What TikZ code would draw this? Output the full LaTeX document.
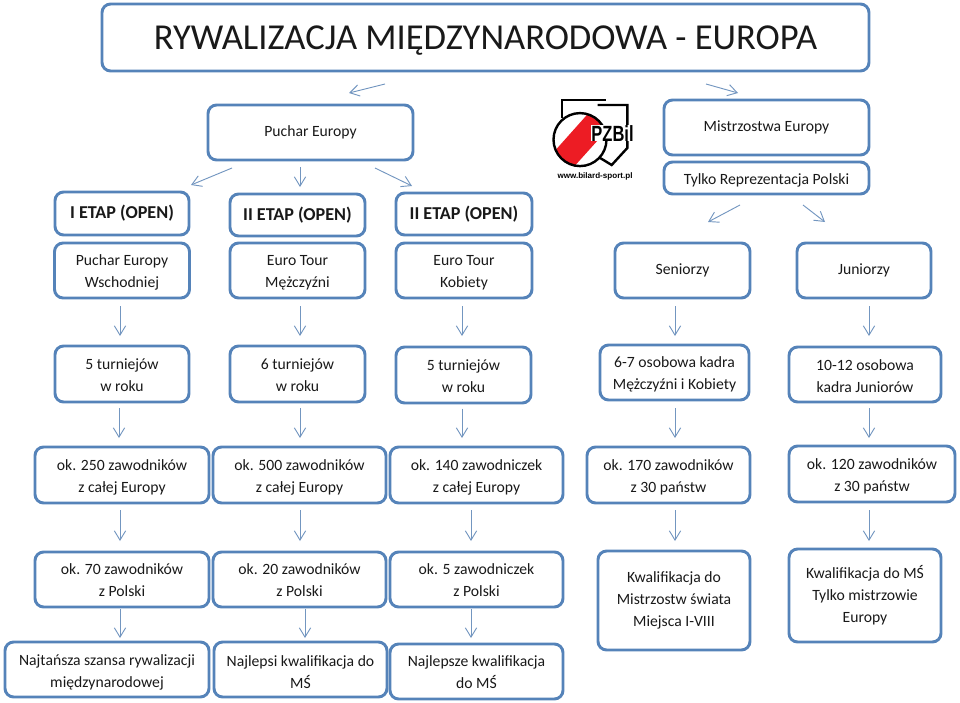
\documentclass[tikz,border=0pt]{standalone}
\usepackage{fontspec}
\setmainfont{Carlito}
\newfontfamily\logofont{Liberation Sans}
\usepackage{tikz}
\usetikzlibrary{arrows.meta}
\definecolor{boxblue}{HTML}{5583B9}
\definecolor{arrowblue}{HTML}{7396C0}
\definecolor{logored}{HTML}{ED1C24}
\tikzset{
    flowbox/.style={draw=boxblue,line width=2.2pt,rounded corners=6.5pt,fill=white,
        align=flush center,inner sep=0pt,outer sep=0pt,text=black!90,
        font=\fontsize{11.75}{16.5}\selectfont},
    etapbox/.style={flowbox,font=\fontsize{13.6}{16.5}\selectfont\bfseries},
    boxsize/.style 2 args={minimum width=#1*0.75pt,minimum height=#2*0.75pt,text width=#1*0.75pt-4pt},
    raised/.style={execute at begin node={\rule{0pt}{#1pt}}},
    raised/.default=11.6,
    flowarrow/.style={arrowblue,line width=0.7pt}
}

\begin{document}
\begin{tikzpicture}[x=0.75pt,y=-0.75pt,>={Straight Barb[length=7pt,width=8.5pt,line width=0.7pt]}]
    \useasboundingbox (0,0) rectangle (960,703);

    % Title
    \node[flowbox,boxsize={767}{67},font=\fontsize{27.4}{30}\selectfont,raised=23] (title) at (485.5,37.5) {RYWALIZACJA MIĘDZYNARODOWA - EUROPA};

    % Puchar Europy
    \node[flowbox,boxsize={205}{55}] (puchar) at (310.5,132.5) {Puchar Europy};
    \node[etapbox,boxsize={134}{43}] (etapa) at (122,213.5) {I ETAP (OPEN)};
    \node[etapbox,boxsize={135}{42}] (etapb) at (297.5,215) {II ETAP (OPEN)};
    \node[etapbox,boxsize={136}{42}] (etapc) at (464,214) {II ETAP (OPEN)};

    % Mistrzostwa Europy
    \node[flowbox,boxsize={205}{55}] (mistrz) at (766.5,127.5) {Mistrzostwa Europy};
    \node[flowbox,boxsize={205}{32},raised] (tylko) at (766.5,178) {Tylko Reprezentacja Polski};

    % Logo
    \draw[black,line width=1.8pt] (561.7,118) -- (561.7,100) -- (606,100);
    \draw[black,line width=1.8pt] (597.7,105) -- (627.3,105) -- (627.3,148) -- (611.7,165) -- (598,156.7);
    \begin{scope}
        \clip (580,139.6) circle (26.5);
        \fill[white] (550,110) rectangle (612,172);
        \fill[logored] (548,158.5) -- (594,107) -- (616,120) -- (566,175.6) -- cycle;
    \end{scope}
    \draw[black,line width=1.8pt] (580,139.6) circle (26.5);
    \node[font=\logofont\bfseries\fontsize{16.5}{16.5}\selectfont,xscale=0.75,inner sep=0pt,fill=white] (logoname) at (612.5,133.3) {PZBil};
    \node[font=\logofont\bfseries\fontsize{6.05}{7}\selectfont,inner sep=0pt] (logourl) at (595,176) {www.bilard-sport.pl};

    % Row with organisers
    \node[flowbox,boxsize={135}{55},raised] (orga) at (122,270.5) {Puchar Europy\\Wschodniej};
    \node[flowbox,boxsize={135}{55},raised] (orgb) at (297.5,270.5) {Euro Tour\\Mężczyźni};
    \node[flowbox,boxsize={136}{55},raised] (orgc) at (464,270.5) {Euro Tour\\Kobiety};
    \node[flowbox,boxsize={135}{55}] (orgd) at (682.5,270.5) {Seniorzy};
    \node[flowbox,boxsize={134}{55}] (orge) at (864,270.5) {Juniorzy};

    % Row with tournaments
    \node[flowbox,boxsize={134}{56},raised=10.4] (turna) at (122,374) {5 turniejów\\w roku};
    \node[flowbox,boxsize={135}{56},raised=10.4] (turnb) at (297.5,374) {6 turniejów\\w roku};
    \node[flowbox,boxsize={135}{56},raised=9.6] (turnc) at (463.5,375) {5 turniejów\\w roku};
    \node[flowbox,boxsize={149}{55},raised] (turnd) at (674.5,372.5) {6-7 osobowa kadra\\Mężczyźni i Kobiety};
    \node[flowbox,boxsize={152}{55},raised=10.4] (turne) at (865,374.5) {10-12 osobowa\\kadra Juniorów};

    % Row with players from Europe
    \node[flowbox,boxsize={174}{56},raised] (eura) at (122,475) {ok. 250 zawodników\\z całej Europy};
    \node[flowbox,boxsize={173}{56},raised] (eurb) at (299.5,475) {ok. 500 zawodników\\z całej Europy};
    \node[flowbox,boxsize={173}{56},raised] (eurc) at (476.5,475) {ok. 140 zawodniczek\\z całej Europy};
    \node[flowbox,boxsize={163}{56},raised] (eurd) at (668.5,475) {ok. 170 zawodników\\z 30 państw};
    \node[flowbox,boxsize={166}{56},raised] (eure) at (872,474) {ok. 120 zawodników\\z 30 państw};

    % Row with players from Poland
    \node[flowbox,boxsize={174}{55},raised=9] (pola) at (122,579.5) {ok. 70 zawodników\\z Polski};
    \node[flowbox,boxsize={173}{55},raised=9] (polb) at (299.5,579.5) {ok. 20 zawodników\\z Polski};
    \node[flowbox,boxsize={173}{55},raised=9] (polc) at (476.5,579.5) {ok. 5 zawodniczek\\z Polski};
    \node[flowbox,boxsize={152}{99}] (pold) at (674,600.5) {Kwalifikacja do\\Mistrzostw świata\\Miejsca I-VIII};
    \node[flowbox,boxsize={152}{93}] (pole) at (865,595.5) {Kwalifikacja do MŚ\\Tylko mistrzowie\\Europy};

    % Last row
    \node[flowbox,boxsize={204}{55},raised=12.6] (lasta) at (107,669.5) {Najtańsza szansa rywalizacji\\międzynarodowej};
    \node[flowbox,boxsize={173}{55},raised=12.6] (lastb) at (300.5,669.5) {Najlepsi kwalifikacja do\\MŚ};
    \node[flowbox,boxsize={173}{55},raised=9] (lastc) at (476.5,671.5) {Najlepsze kwalifikacja\\do MŚ};

    % Arrows from title
    \draw[->,flowarrow] ([shift={(-100.5,13)}]title.south) -- ([shift={(38.5,-12)}]puchar.north);
    \draw[->,flowarrow] ([shift={(220.5,13)}]title.south) -- ([shift={(-28.5,-7)}]mistrz.north);

    % Arrows from Puchar Europy and Tylko Reprezentacja
    \draw[->,flowarrow] ([shift={(-78.5,8)}]puchar.south) -- ([shift={(69,-7)}]etapa.north);
    \draw[->,flowarrow] ([shift={(-10.5,7)}]puchar.south) -- ([shift={(2.5,-7)}]etapb.north);
    \draw[->,flowarrow] ([shift={(64.5,8)}]puchar.south) -- ([shift={(-52,-7)}]etapc.north);
    \draw[->,flowarrow] ([shift={(-26.5,11)}]tylko.south) -- ([shift={(25.5,-21)}]orgd.north);
    \draw[->,flowarrow] ([shift={(36.5,11)}]tylko.south) -- ([shift={(-39,-21)}]orge.north);

    % Arrows down to tournaments
    \draw[->,flowarrow] ([shift={(-2,8)}]orga.south) -- ([shift={(-2,-10)}]turna.north);
    \draw[->,flowarrow] ([shift={(2.5,8)}]orgb.south) -- ([shift={(2.5,-10)}]turnb.north);
    \draw[->,flowarrow] ([shift={(-2,8)}]orgc.south) -- ([shift={(-1.5,-11)}]turnc.north);
    \draw[->,flowarrow] ([shift={(-7.5,8)}]orgd.south) -- ([shift={(0.5,-9)}]turnd.north);
    \draw[->,flowarrow] ([shift={(5,8)}]orge.south) -- ([shift={(4,-11)}]turne.north);

    % Arrows down to players from Europe
    \draw[->,flowarrow] ([shift={(-3,6)}]turna.south) -- ([shift={(-3,-9)}]eura.north);
    \draw[->,flowarrow] ([shift={(2.5,6)}]turnb.south) -- ([shift={(0.5,-9)}]eurb.north);
    \draw[->,flowarrow] ([shift={(-1.5,5.5)}]turnc.south) -- ([shift={(-14.5,-9)}]eurc.north);
    \draw[->,flowarrow] ([shift={(0.5,8)}]turnd.south) -- ([shift={(6.5,-9)}]eurd.north);
    \draw[->,flowarrow] ([shift={(4,6)}]turne.south) -- ([shift={(-3,-8)}]eure.north);

    % Arrows down to players from Poland
    \draw[->,flowarrow] ([shift={(-2,7)}]eura.south) -- ([shift={(-2,-11)}]pola.north);
    \draw[->,flowarrow] ([shift={(0.5,7)}]eurb.south) -- ([shift={(0.5,-11)}]polb.north);
    \draw[->,flowarrow] ([shift={(-5.5,7)}]eurc.south) -- ([shift={(-5.5,-11)}]polc.north);
    \draw[->,flowarrow] ([shift={(6.5,7)}]eurd.south) -- ([shift={(1,-10)}]pold.north);
    \draw[->,flowarrow] ([shift={(-3,8)}]eure.south) -- ([shift={(4,-8)}]pole.north);

    % Arrows down to last row
    \draw[->,flowarrow] ([shift={(-2,2)}]pola.south) -- ([shift={(13,-4)}]lasta.north);
    \draw[->,flowarrow] ([shift={(5.5,2)}]polb.south) -- ([shift={(4.5,-4)}]lastb.north);
    \draw[->,flowarrow] ([shift={(-5.5,2)}]polc.south) -- ([shift={(-5.5,-6)}]lastc.north);
\end{tikzpicture}
\end{document}
